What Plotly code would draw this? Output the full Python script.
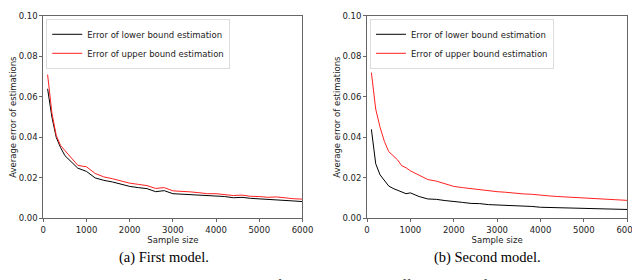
import plotly.graph_objects as go

sample_sizes = [100, 200, 300, 400, 500, 600, 700, 800, 900, 1000,
                1200, 1400, 1600, 1800, 2000, 2200, 2400, 2600, 2800, 3000,
                3200, 3400, 3600, 3800, 4000, 4200, 4400, 4600, 4800, 5000,
                5200, 5400, 5600, 5800, 6000]

first_lower = [0.064, 0.050, 0.040, 0.035, 0.031, 0.029, 0.027, 0.0248, 0.024, 0.0232,
               0.0200, 0.0188, 0.0180, 0.0168, 0.0158, 0.0152, 0.0147, 0.0132, 0.0137, 0.0122,
               0.0120, 0.0118, 0.0116, 0.0112, 0.0110, 0.0108, 0.0102, 0.0104, 0.0099, 0.0097,
               0.0095, 0.0093, 0.0091, 0.0086, 0.0083]
first_upper = [0.071, 0.052, 0.041, 0.036, 0.0335, 0.031, 0.0285, 0.0262, 0.0258, 0.0255,
               0.0222, 0.0205, 0.0196, 0.0185, 0.0174, 0.0168, 0.0162, 0.0148, 0.0152, 0.0136,
               0.0135, 0.0131, 0.0127, 0.0122, 0.0122, 0.0118, 0.0113, 0.0115, 0.0109, 0.0108,
               0.0104, 0.0106, 0.0101, 0.0097, 0.0095]

second_lower = [0.044, 0.027, 0.0215, 0.0185, 0.016, 0.0148, 0.014, 0.013, 0.0122, 0.0126,
                0.0108, 0.0096, 0.0094, 0.0088, 0.0082, 0.0079, 0.0074, 0.0073, 0.0068, 0.0066,
                0.0067, 0.0063, 0.0062, 0.0059, 0.0055, 0.0054, 0.0052, 0.0051, 0.0050, 0.0049,
                0.0048, 0.0046, 0.0045, 0.0045, 0.0044]
second_upper = [0.072, 0.054, 0.045, 0.038, 0.033, 0.031, 0.029, 0.026, 0.025, 0.0235,
                0.0215, 0.0192, 0.0184, 0.0172, 0.0158, 0.0152, 0.0147, 0.0140, 0.0136, 0.0132,
                0.0129, 0.0124, 0.0121, 0.0119, 0.0114, 0.0111, 0.0108, 0.0106, 0.0102, 0.0100,
                0.0098, 0.0096, 0.0093, 0.0091, 0.0089]

x_ticks = [0, 1000, 2000, 3000, 4000, 5000, 6000]
y_ticks = [0.00, 0.02, 0.04, 0.06, 0.08, 0.10]
y_tick_labels = ["0.00", "0.02", "0.04", "0.06", "0.08", "0.10"]

lower_name = "Error of lower bound estimation"
upper_name = "Error of upper bound estimation"
captions = ["(a) First model.", "(b) Second model."]
fig_caption = "Figure 4: Average error of estimations using different sizes of data."

W, H = 640, 280
fig = go.Figure()

panels = [
    (first_lower, first_upper, "x", "y", "legend"),
    (second_lower, second_upper, "x2", "y2", "legend2"),
]
for lo, up, xa, ya, lg in panels:
    fig.add_trace(go.Scatter(x=sample_sizes, y=lo, mode="lines", name=lower_name,
                             line=dict(color="black", width=1), xaxis=xa, yaxis=ya, legend=lg))
    fig.add_trace(go.Scatter(x=sample_sizes, y=up, mode="lines", name=upper_name,
                             line=dict(color="#ff2020", width=1), xaxis=xa, yaxis=ya, legend=lg))

tickfont = dict(family="DejaVu Sans", size=8.5, color="#222")
axis_common = dict(showgrid=False, zeroline=False, showline=True, mirror=True,
                   linecolor="#666", linewidth=1, ticks="outside", ticklen=3,
                   tickcolor="#666", tickfont=tickfont, ticklabeloverflow="allow")

ydom = [1 - 213 / H, 1 - 3 / H]
xd1 = [33 / W, 298 / W]
xd2 = [364 / W, 630 / W]

xtitle = dict(text="Sample size", font=dict(family="DejaVu Sans", size=8.5, color="#222"), standoff=0)
ytitle = dict(text="Average error of estimations", font=dict(family="DejaVu Sans", size=8.5, color="#222"), standoff=0)

legend_common = dict(xanchor="left", yanchor="top",
                     bgcolor="rgba(255,255,255,0.8)", bordercolor="#ddd", borderwidth=1,
                     font=dict(family="DejaVu Sans", size=8.5, color="#222"),
                     itemwidth=30, tracegroupgap=0)

fig.update_layout(
    width=W, height=H, margin=dict(l=0, r=0, t=0, b=0),
    paper_bgcolor="white", plot_bgcolor="white",
    xaxis=dict(domain=xd1, range=[0, 6000], tickvals=x_ticks, title=xtitle, anchor="y", **axis_common),
    yaxis=dict(domain=ydom, range=[0, 0.1], tickvals=y_ticks, ticktext=y_tick_labels,
               title=ytitle, anchor="x", **axis_common),
    xaxis2=dict(domain=xd2, range=[0, 6000], tickvals=x_ticks, title=xtitle, anchor="y2", **axis_common),
    yaxis2=dict(domain=ydom, range=[0, 0.1], tickvals=y_ticks, ticktext=y_tick_labels,
                title=ytitle, anchor="x2", **axis_common),
    legend=dict(x=36 / W, y=1 - 6 / H, **legend_common),
    legend2=dict(x=367 / W, y=1 - 6 / H, **legend_common),
    showlegend=True,
)

serif = dict(family="Liberation Serif", size=14.5, color="black")
fig.add_annotation(text=captions[0], x=156 / W, y=1 - 254 / H, xref="paper", yref="paper",
                   showarrow=False, font=serif, xanchor="center", yanchor="middle")
fig.add_annotation(text=captions[1], x=487 / W, y=1 - 254 / H, xref="paper", yref="paper",
                   showarrow=False, font=serif, xanchor="center", yanchor="middle")
fig.add_annotation(text=fig_caption, x=0.5, y=1 - 282 / H, xref="paper", yref="paper",
                   showarrow=False, font=serif, xanchor="center", yanchor="middle")

fig.write_html("out.html")
